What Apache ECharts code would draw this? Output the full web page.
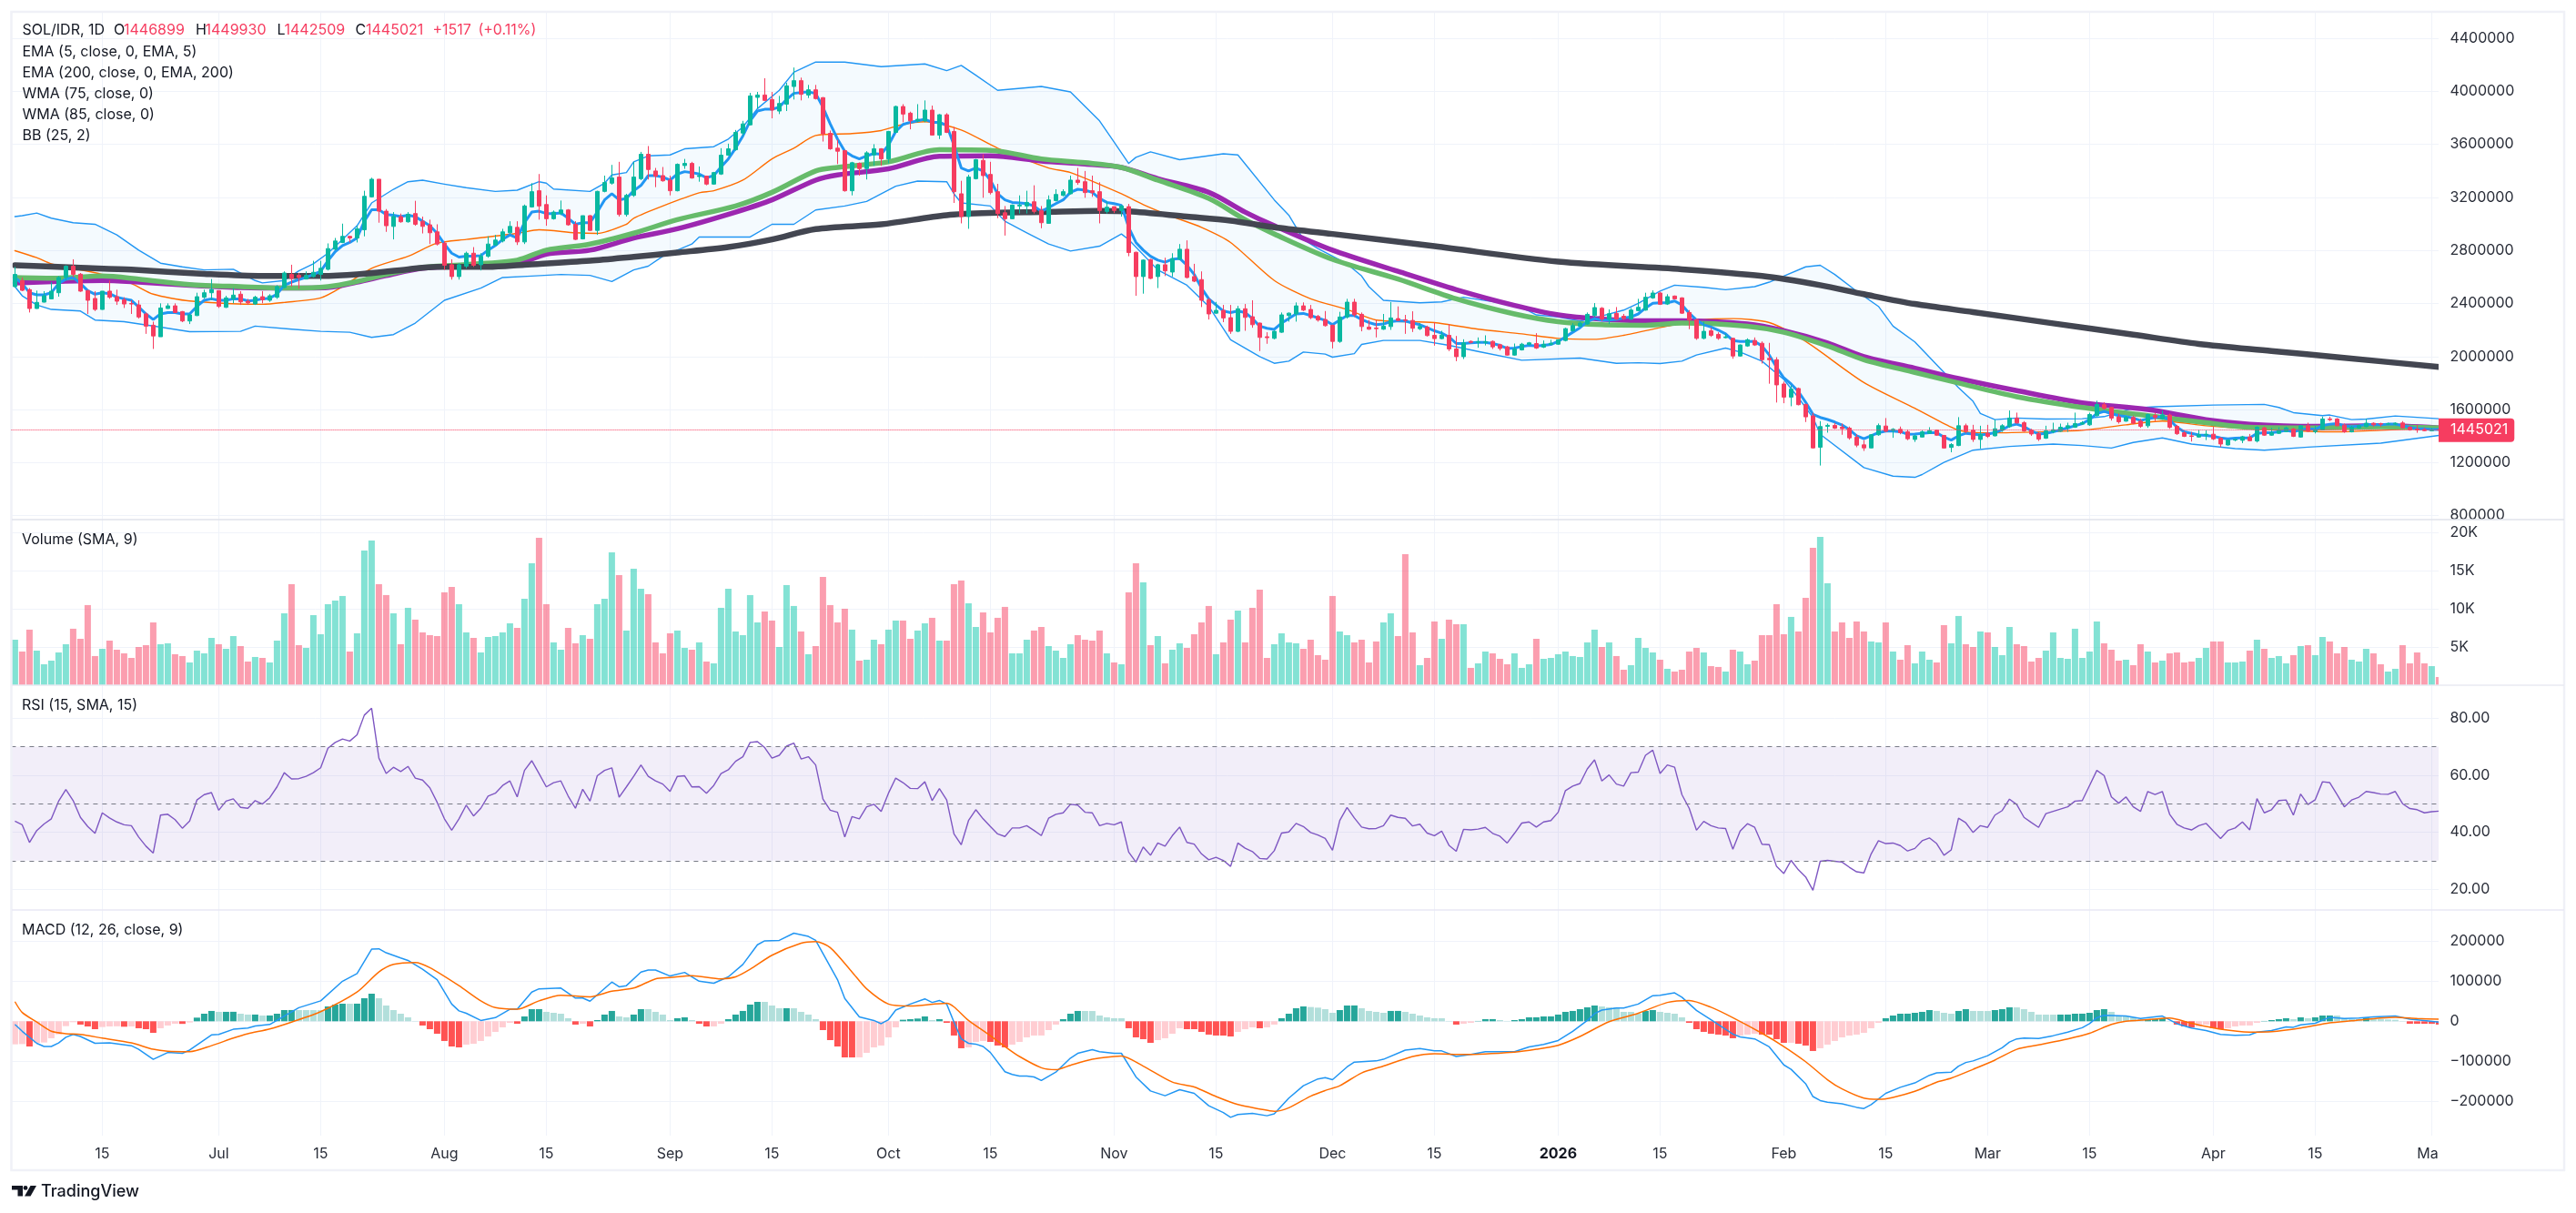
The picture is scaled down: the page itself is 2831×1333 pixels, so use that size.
<!DOCTYPE html>
<html>
<head>
<meta charset="utf-8">
<title>SOL/IDR, 1D</title>
<script src="https://cdn.jsdelivr.net/npm/echarts@6/dist/echarts.min.js"></script>
<style>html,body{margin:0;padding:0;background:#fff}#chart{width:2831px;height:1333px}</style>
</head>
<body>
<div id="chart"></div>
<script>
// Daily bars from 3 Jun 2025 to 2 May 2026; prices are in thousands of IDR.
const firstDay = Date.UTC(2025, 5, 3);
const barCount = 334;
const PRICE_UNIT = 1000;

const opens = [
2527,2573,2504,2362,2410,2435,2481,2596,2681,2621,
2497,2438,2355,2493,2451,2428,2400,2389,2321,2236,
2149,2362,2382,2339,2268,2309,2447,2481,2497,2371,
2435,2470,2417,2396,2451,2424,2447,2520,2619,2612,
2584,2603,2619,2658,2809,2860,2906,2894,2956,3204,
3337,3096,2981,3055,3016,3078,3020,2993,2940,2855,
2692,2603,2681,2779,2692,2756,2841,2871,2933,2974,
2864,3128,3250,3146,3039,3078,3105,2997,2887,3062,
2951,3245,3307,3353,3071,3215,3341,3525,3399,3364,
3330,3250,3440,3456,3357,3360,3300,3376,3518,3559,
3685,3747,3954,3972,3938,3851,3903,4036,4080,3972,
4011,3952,3683,3571,3552,3250,3456,3417,3520,3566,
3490,3690,3885,3835,3777,3777,3858,3670,3823,3697,
3227,3055,3341,3479,3373,3243,3084,3039,3135,3135,
3167,3101,3004,3176,3215,3227,3330,3318,3250,3243,
3094,3130,3101,3130,2786,2603,2731,2603,2692,2637,
2733,2809,2603,2580,2428,2327,2348,2293,2190,2360,
2300,2252,2149,2137,2183,2309,2321,2382,2355,2302,
2279,2236,2114,2298,2410,2318,2222,2215,2206,2226,
2286,2277,2272,2210,2222,2160,2135,2160,2057,1999,
2114,2107,2107,2114,2089,2073,2011,2050,2091,2098,
2071,2091,2093,2121,2194,2229,2245,2309,2364,2282,
2325,2304,2282,2346,2350,2442,2479,2396,2456,2442,
2332,2279,2137,2194,2167,2142,2137,2004,2080,2121,
2100,1986,1976,1793,1694,1759,1639,1552,1316,1474,
1481,1467,1460,1391,1334,1311,1410,1476,1442,1451,
1433,1375,1393,1421,1444,1405,1315,1329,1478,1444,
1375,1421,1402,1444,1471,1536,1501,1444,1418,1384,
1434,1437,1462,1467,1490,1485,1554,1637,1616,1545,
1513,1540,1513,1478,1556,1531,1559,1474,1425,1402,
1393,1409,1414,1384,1333,1370,1368,1393,1363,1462,
1407,1421,1434,1453,1393,1478,1434,1448,1529,1529,
1483,1432,1462,1471,1497,1494,1490,1490,1499,1467,
1453,1450,1441,1446.899];

const closes = [
2619,2499,2362,2408,2458,2493,2596,2681,2619,2493,
2424,2355,2493,2447,2417,2396,2396,2298,2229,2155,
2366,2382,2332,2268,2314,2451,2481,2506,2378,2442,
2463,2412,2405,2447,2428,2458,2527,2630,2589,2596,
2612,2635,2665,2814,2871,2906,2894,2963,3208,3337,
3096,2986,3055,3016,3073,2997,2981,2933,2848,2688,
2603,2692,2779,2688,2756,2848,2878,2940,2981,2864,
3135,3243,3135,3039,3089,3105,2993,2883,3062,2951,
3245,3312,3346,3071,3215,3353,3525,3410,3360,3325,
3250,3449,3456,3346,3364,3300,3387,3518,3566,3690,
3754,3965,3972,3931,3858,3908,4041,4080,3977,4011,
3945,3679,3566,3548,3250,3461,3417,3536,3566,3490,
3697,3885,3828,3777,3789,3858,3670,3823,3690,3243,
3055,3353,3484,3364,3236,3078,3039,3142,3142,3162,
3094,3009,3181,3222,3243,3330,3312,3236,3236,3101,
3126,3101,3135,2784,2603,2727,2589,2692,2646,2738,
2809,2596,2568,2424,2321,2348,2291,2190,2360,2295,
2240,2144,2142,2190,2314,2327,2382,2350,2293,2275,
2233,2114,2298,2410,2314,2226,2206,2210,2229,2291,
2272,2272,2213,2226,2158,2135,2162,2057,1999,2103,
2107,2112,2112,2073,2061,2011,2057,2093,2103,2064,
2093,2100,2126,2210,2233,2252,2318,2369,2282,2323,
2282,2286,2350,2371,2447,2479,2394,2451,2435,2327,
2275,2137,2190,2160,2137,2148,2004,2087,2126,2087,
1976,1976,1786,1694,1754,1637,1545,1311,1472,1481,
1460,1456,1387,1332,1311,1410,1479,1437,1451,1426,
1380,1402,1432,1441,1407,1310,1336,1478,1437,1375,
1414,1398,1455,1478,1536,1499,1439,1416,1377,1439,
1448,1467,1478,1494,1501,1563,1639,1609,1536,1508,
1540,1497,1474,1563,1540,1561,1467,1418,1398,1398,
1411,1414,1379,1340,1370,1375,1395,1365,1467,1407,
1425,1444,1462,1398,1478,1437,1448,1529,1524,1478,
1432,1467,1478,1497,1485,1490,1494,1497,1462,1448,
1446,1441,1443.504,1445.021];

const highs = [
2676,2596,2516,2497,2493,2561,2607,2688,2733,2630,
2504,2493,2493,2573,2504,2447,2424,2424,2332,2263,
2401,2401,2401,2343,2321,2481,2504,2584,2497,2458,
2516,2493,2435,2458,2493,2470,2538,2642,2692,2630,
2642,2722,2722,2853,2894,3002,2910,2986,3250,3348,
3337,3112,3089,3078,3089,3174,3055,3032,2997,2871,
2733,2704,2791,2825,2779,2906,2917,2963,3020,3020,
3146,3307,3376,3215,3101,3176,3112,3020,3062,3066,
3250,3364,3445,3468,3227,3468,3543,3587,3422,3429,
3364,3456,3490,3468,3433,3364,3392,3571,3605,3708,
3777,3988,3995,4098,3995,3965,4064,4179,4103,4048,
4048,3956,3704,3635,3559,3468,3463,3548,3601,3571,
3701,3892,3903,3846,3903,3931,3892,3828,3835,3731,
3325,3371,3490,3525,3468,3302,3135,3146,3215,3250,
3291,3135,3215,3261,3261,3364,3422,3399,3364,3314,
3169,3130,3142,3151,2791,2733,2736,2699,2745,2779,
2848,2876,2699,2642,2442,2412,2389,2389,2382,2396,
2424,2256,2183,2196,2332,2332,2408,2408,2389,2314,
2343,2240,2337,2435,2435,2332,2275,2275,2321,2410,
2378,2314,2341,2252,2233,2256,2194,2245,2155,2130,
2121,2144,2160,2121,2096,2080,2098,2103,2110,2176,
2121,2126,2130,2217,2252,2263,2332,2403,2373,2355,
2373,2321,2366,2435,2481,2499,2488,2470,2460,2447,
2350,2286,2263,2217,2183,2171,2142,2091,2137,2144,
2114,2103,1995,1811,1782,1766,1644,1575,1513,1495,
1499,1495,1472,1414,1369,1414,1495,1536,1460,1472,
1449,1409,1444,1467,1448,1409,1347,1543,1494,1485,
1478,1485,1524,1490,1593,1577,1513,1455,1432,1478,
1501,1494,1501,1577,1513,1577,1667,1655,1621,1570,
1554,1554,1531,1570,1577,1593,1570,1485,1437,1432,
1448,1444,1471,1393,1375,1379,1402,1416,1474,1471,
1462,1467,1471,1462,1483,1501,1478,1547,1547,1536,
1494,1478,1485,1531,1503,1501,1501,1503,1513,1476,
1485,1462,1462,1449.93];

const lows = [
2520,2493,2332,2360,2408,2433,2451,2573,2596,2488,
2321,2343,2353,2435,2389,2366,2321,2286,2171,2057,
2149,2360,2327,2259,2245,2305,2435,2424,2366,2366,
2401,2389,2389,2389,2401,2412,2435,2516,2527,2511,
2584,2596,2573,2649,2802,2855,2860,2860,2906,3199,
3009,2940,2883,3009,3009,2986,2928,2848,2837,2653,
2580,2580,2665,2676,2649,2745,2837,2860,2924,2841,
2848,3123,3032,2986,3032,3066,2986,2878,2883,2947,
2917,3238,3296,3055,3055,3204,3330,3335,3277,3318,
3215,3245,3415,3341,3318,3291,3295,3369,3513,3552,
3663,3743,3869,3926,3796,3828,3851,3938,3931,3949,
3938,3621,3559,3451,3243,3215,3364,3335,3438,3438,
3456,3685,3766,3713,3766,3766,3668,3640,3685,3158,
3004,2963,3335,3197,3222,3043,2912,3036,3078,3078,
3078,2967,3002,3169,3208,3222,3295,3197,3204,3004,
3078,3082,3055,2756,2458,2474,2584,2516,2607,2603,
2729,2589,2561,2373,2279,2321,2259,2171,2183,2194,
2217,2041,2096,2130,2178,2263,2263,2343,2282,2263,
2226,2061,2103,2286,2298,2190,2201,2144,2201,2201,
2268,2171,2185,2199,2151,2082,2130,2041,1965,1981,
2098,2066,2084,2057,2045,2006,2006,2045,2084,2057,
2064,2084,2089,2114,2190,2224,2240,2298,2268,2245,
2275,2275,2277,2341,2346,2435,2389,2389,2433,2321,
2206,2126,2130,2148,2126,2137,1983,1999,2073,2080,
1947,1795,1653,1648,1625,1632,1506,1307,1178,1426,
1453,1410,1373,1316,1288,1309,1403,1430,1387,1414,
1369,1356,1391,1416,1402,1306,1278,1324,1421,1356,
1306,1386,1398,1432,1462,1494,1432,1402,1363,1379,
1421,1432,1432,1462,1485,1478,1547,1600,1517,1494,
1508,1490,1462,1462,1513,1524,1455,1409,1393,1359,
1388,1370,1370,1317,1329,1361,1347,1361,1352,1402,
1402,1416,1430,1393,1388,1432,1420,1444,1513,1474,
1425,1428,1455,1467,1471,1471,1483,1483,1457,1441,
1425,1437,1440,1442.509];

const ema5 = [
2596,2550,2481,2465,2465,2481,2550,2584,2596,2550,
2497,2470,2481,2474,2447,2435,2424,2373,2321,2279,
2321,2332,2332,2321,2321,2378,2424,2435,2424,2424,
2435,2435,2419,2424,2435,2440,2470,2538,2561,2580,
2596,2619,2642,2722,2791,2837,2860,2894,3020,3107,
3107,3071,3066,3055,3066,3055,3020,2986,2928,2848,
2779,2750,2756,2756,2761,2802,2837,2883,2917,2894,
3009,3089,3096,3078,3078,3082,3043,2997,3009,3009,
3089,3181,3227,3181,3192,3250,3290,3364,3364,3353,
3330,3376,3394,3387,3376,3348,3364,3429,3490,3571,
3663,3777,3851,3864,3864,3880,3938,3984,3991,3995,
3984,3880,3754,3640,3548,3513,3490,3513,3530,3525,
3594,3697,3750,3766,3777,3789,3766,3766,3743,3594,
3422,3399,3422,3399,3330,3227,3181,3162,3158,3153,
3135,3094,3123,3153,3181,3238,3261,3254,3238,3192,
3162,3153,3140,2974,2860,2802,2756,2727,2711,2733,
2740,2688,2619,2516,2435,2389,2343,2332,2343,2332,
2286,2229,2213,2205,2252,2286,2321,2325,2309,2291,
2272,2240,2275,2309,2309,2279,2256,2240,2245,2263,
2270,2268,2252,2240,2217,2194,2176,2148,2098,2098,
2103,2107,2107,2098,2084,2061,2064,2075,2084,2080,
2084,2091,2114,2148,2183,2217,2263,2286,2275,2275,
2279,2291,2298,2321,2366,2401,2405,2405,2419,2389,
2327,2275,2240,2222,2199,2171,2121,2114,2114,2114,
2080,2011,1919,1839,1793,1736,1655,1564,1541,1525,
1506,1483,1449,1403,1380,1403,1426,1437,1437,1433,
1414,1416,1421,1425,1425,1393,1370,1402,1421,1416,
1409,1416,1425,1448,1478,1490,1471,1439,1416,1421,
1432,1448,1462,1478,1494,1524,1570,1586,1570,1554,
1547,1536,1517,1531,1540,1547,1524,1467,1432,1421,
1409,1405,1398,1386,1379,1384,1386,1386,1421,1425,
1425,1432,1444,1432,1448,1455,1451,1478,1490,1494,
1478,1471,1476,1490,1485,1485,1490,1490,1478,1467,
1455,1455,1450,1449];

// Slower overlays, read as [bar, price] at the turning points of each curve.
const ema200 = [[0,2688],[9,2669],[16,2655],[26,2623],[34,2607],[42,2607],[47,2619],[54,2658],[58,2676],[65,2676],[70,2692],[79,2722],[85,2752],[91,2784],[98,2825],[104,2883],[110,2961],[119,2997],[128,3066],[135,3084],[141,3089],[149,3098],[153,3094],[161,3055],[167,3025],[173,2974],[181,2924],[195,2832],[212,2715],[229,2658],[240,2607],[248,2538],[254,2470],[261,2396],[269,2335],[280,2250],[291,2165],[300,2095],[310,2042],[319,1995],[333,1922]];
const wma75 = [[0,2596],[6,2591],[12,2607],[17,2584],[24,2543],[31,2527],[38,2516],[43,2527],[47,2566],[51,2619],[56,2672],[62,2694],[69,2727],[73,2802],[79,2848],[85,2930],[91,3032],[99,3135],[104,3238],[110,3399],[113,3426],[120,3468],[127,3559],[134,3555],[141,3490],[147,3461],[152,3426],[157,3330],[164,3192],[169,3032],[173,2924],[181,2733],[190,2584],[198,2435],[206,2321],[212,2263],[218,2240],[224,2236],[229,2252],[238,2229],[243,2183],[249,2080],[254,1976],[261,1880],[267,1800],[275,1697],[284,1616],[293,1554],[301,1501],[307,1467],[316,1462],[325,1471],[333,1462]];
const wma85 = [[0,2555],[6,2566],[12,2573],[17,2561],[24,2538],[31,2520],[38,2516],[43,2520],[47,2561],[51,2610],[56,2665],[62,2681],[69,2699],[73,2772],[79,2802],[85,2894],[91,2963],[99,3089],[104,3181],[110,3330],[113,3369],[120,3415],[127,3509],[134,3513],[141,3474],[147,3451],[152,3426],[157,3341],[164,3238],[169,3089],[173,2986],[181,2802],[190,2642],[198,2504],[206,2385],[212,2314],[218,2282],[224,2270],[229,2270],[238,2245],[243,2194],[249,2103],[254,2000],[261,1912],[267,1834],[275,1743],[284,1651],[293,1600],[301,1524],[307,1490],[316,1474],[325,1478],[333,1462]];
const bbUpper = [[0,3055],[1,3062],[3,3082],[5,3043],[8,3009],[11,2997],[14,2917],[17,2802],[20,2704],[23,2676],[26,2653],[30,2658],[33,2573],[34,2555],[37,2573],[39,2646],[41,2699],[43,2779],[47,2986],[49,3158],[52,3261],[54,3318],[56,3330],[59,3300],[62,3273],[66,3245],[69,3254],[72,3318],[73,3307],[74,3263],[79,3245],[81,3307],[82,3369],[84,3387],[85,3468],[87,3513],[90,3520],[92,3566],[96,3582],[98,3640],[100,3731],[102,3869],[105,4007],[107,4144],[110,4220],[114,4220],[119,4186],[125,4206],[128,4156],[130,4195],[132,4121],[135,4007],[141,4036],[145,3995],[149,3777],[151,3617],[153,3456],[154,3502],[156,3543],[160,3484],[166,3529],[168,3520],[173,3181],[175,3066],[177,2883],[179,2814],[183,2699],[185,2607],[186,2527],[188,2424],[193,2405],[196,2412],[199,2447],[206,2389],[208,2343],[209,2314],[212,2298],[215,2268],[217,2291],[221,2350],[223,2401],[226,2493],[228,2538],[232,2522],[235,2504],[239,2527],[241,2561],[243,2607],[246,2676],[248,2688],[250,2619],[253,2493],[256,2378],[258,2229],[261,2110],[265,1880],[267,1766],[269,1662],[270,1570],[272,1524],[275,1536],[279,1529],[284,1531],[287,1547],[291,1611],[294,1621],[302,1634],[309,1639],[311,1616],[313,1577],[317,1554],[318,1559],[321,1524],[323,1529],[327,1552],[333,1531]];
const bbLower = [[0,2527],[1,2458],[3,2389],[5,2355],[9,2343],[11,2275],[15,2263],[20,2222],[24,2187],[31,2190],[33,2229],[38,2206],[42,2190],[46,2183],[49,2144],[52,2165],[55,2252],[59,2424],[64,2516],[67,2596],[71,2607],[75,2619],[79,2612],[82,2566],[85,2653],[87,2681],[89,2756],[93,2848],[94,2901],[101,2901],[104,2997],[107,2997],[110,3105],[114,3135],[117,3169],[121,3284],[124,3323],[128,3318],[129,3227],[130,3158],[134,3135],[136,3020],[139,2933],[142,2848],[145,2795],[149,2832],[152,2924],[153,2882],[157,2653],[161,2538],[164,2378],[167,2126],[171,2000],[173,1949],[175,1965],[177,2034],[180,2018],[181,1995],[184,2022],[185,2091],[188,2121],[193,2121],[197,2084],[201,2038],[207,1972],[215,1988],[220,1949],[223,1953],[226,1947],[229,1965],[231,2011],[235,2064],[237,2034],[240,1965],[243,1827],[245,1690],[247,1540],[248,1414],[254,1162],[258,1098],[261,1089],[262,1110],[265,1202],[269,1294],[274,1322],[280,1340],[284,1329],[288,1310],[291,1352],[295,1386],[299,1340],[305,1306],[309,1294],[315,1317],[325,1347],[333,1405]];
const bbBasis = [[0,2798],[3,2745],[5,2699],[12,2619],[16,2550],[19,2470],[24,2419],[34,2394],[37,2408],[42,2442],[45,2527],[49,2665],[54,2756],[58,2855],[62,2883],[69,2928],[72,2956],[77,2933],[80,2928],[84,2997],[85,3043],[89,3135],[94,3234],[96,3250],[100,3330],[104,3490],[107,3571],[110,3667],[115,3681],[119,3704],[122,3750],[125,3770],[130,3708],[135,3571],[142,3422],[145,3387],[152,3227],[155,3146],[159,3055],[163,2974],[167,2860],[173,2573],[178,2435],[183,2355],[187,2275],[195,2256],[201,2206],[207,2171],[212,2137],[217,2130],[221,2160],[227,2229],[232,2279],[236,2286],[241,2256],[246,2114],[254,1804],[261,1610],[266,1467],[268,1432],[272,1425],[278,1432],[284,1444],[290,1485],[295,1513],[301,1478],[307,1455],[319,1432],[325,1444],[333,1462]];

// Volume in thousands of SOL.
const volumes = [
5.96,4.41,7.28,4.53,2.74,3.22,4.29,5.37,7.40,6.08,
10.50,3.82,4.77,5.84,4.65,4.17,3.58,5.01,5.25,8.23,
5.37,5.49,4.06,3.82,2.98,4.53,4.17,6.20,5.37,4.77,
6.44,5.13,3.10,3.70,3.58,2.98,5.84,9.42,13.24,5.25,
4.89,9.18,6.68,10.62,11.09,11.69,4.41,6.80,17.65,18.97,
13.24,11.81,9.42,5.37,10.14,8.59,6.92,6.56,6.44,12.17,
12.88,10.62,6.92,6.20,4.29,6.32,6.44,6.92,8.11,7.51,
11.33,15.98,19.32,10.62,5.61,4.65,7.51,5.49,6.56,6.08,
10.62,11.33,17.41,14.43,7.16,15.27,12.64,11.93,5.61,4.17,
6.80,7.16,4.89,4.65,5.61,3.10,2.86,10.14,12.64,7.04,
6.56,11.81,8.23,9.66,8.47,5.01,13.12,10.38,7.04,4.06,
5.13,14.19,10.50,8.23,10.02,7.28,3.22,3.34,5.96,5.37,
7.28,8.47,8.47,6.08,7.16,8.11,8.83,5.84,5.84,13.24,
13.72,10.73,7.63,9.54,6.92,8.83,10.26,4.17,4.17,5.96,
7.16,7.63,5.13,4.53,3.58,5.37,6.56,5.96,5.84,7.16,
4.17,2.98,2.74,12.17,15.98,13.48,5.25,6.44,2.86,4.65,
5.49,4.89,6.68,8.23,10.38,4.06,5.61,8.59,9.78,5.61,
10.14,12.52,3.58,5.37,6.80,5.61,5.49,4.77,5.96,3.94,
3.34,11.69,7.04,6.56,5.61,5.96,2.98,5.73,8.23,9.42,
6.44,17.18,6.92,2.62,3.58,8.35,6.08,8.59,7.99,7.99,
2.27,2.86,4.41,4.17,3.46,2.74,4.17,2.27,2.74,6.08,
3.46,3.58,4.06,4.41,3.82,3.70,5.61,7.28,5.01,5.61,
3.82,2.03,2.62,6.20,4.89,4.29,3.34,2.15,1.79,2.03,
4.41,4.89,4.29,2.50,2.39,1.79,4.65,4.41,2.74,3.22,
6.56,6.56,10.62,6.68,8.95,7.04,11.45,18.01,19.44,13.36,
7.04,8.23,6.20,8.35,7.04,5.73,5.61,8.23,4.41,3.34,
5.25,2.86,4.41,3.34,2.98,7.87,5.49,9.07,5.37,5.01,
7.04,6.92,5.01,3.94,7.63,5.37,5.13,3.10,3.58,4.53,
6.92,3.58,3.46,7.40,3.58,4.41,8.35,5.49,4.65,3.22,
3.34,2.62,5.37,4.41,2.98,3.22,4.17,4.29,2.98,3.10,
3.58,4.89,5.73,5.73,2.98,2.98,3.10,4.53,5.96,4.77,
3.58,3.82,2.86,3.94,5.13,5.25,3.94,6.32,5.73,4.17,
5.01,3.34,3.10,4.77,4.17,2.74,1.79,2.15,5.25,2.86,
4.29,2.86,2.50,1.07];

const rsiValues = [
43.9,42.6,36.4,40.6,42.9,44.7,50.9,55.0,51.1,45.2,
42.0,39.6,46.8,45.0,43.6,42.6,42.3,38.3,35.1,32.7,
46.0,46.3,44.4,41.4,43.9,51.3,53.2,53.9,47.7,50.9,
51.7,48.7,48.4,51.1,49.9,52.1,55.9,60.9,58.7,58.8,
59.6,60.9,62.6,69.5,71.5,72.7,72.0,74.2,81.1,83.5,
66.0,60.6,62.8,61.3,63.1,59.0,58.3,55.6,50.5,44.7,
40.7,44.7,49.5,45.7,48.4,52.7,53.7,56.4,58.0,52.4,
61.7,65.1,60.6,55.9,57.4,58.0,52.7,48.4,55.1,50.9,
59.8,61.7,62.6,52.3,55.9,59.6,63.6,59.6,58.0,56.9,
54.3,59.6,59.8,55.9,56.0,53.7,56.4,60.6,61.9,64.9,
66.5,71.5,71.8,69.7,66.0,67.0,70.2,71.3,65.7,66.5,
63.6,51.6,47.7,47.0,38.3,45.5,44.7,48.9,49.8,47.3,
53.7,59.0,57.4,55.4,55.3,57.7,51.1,55.3,51.3,39.4,
35.6,44.1,47.9,44.7,42.0,39.4,38.5,41.5,41.5,42.3,
40.6,38.8,44.9,46.3,46.8,49.8,49.5,47.0,46.8,42.3,
43.1,42.6,43.6,33.0,29.5,34.8,31.9,36.2,35.1,38.8,
41.8,36.4,35.8,32.4,30.3,31.2,30.1,28.0,36.2,34.4,
33.2,30.8,30.6,33.5,39.7,40.1,43.1,42.0,39.9,39.0,
37.8,33.7,44.1,48.7,45.0,41.8,41.2,41.3,42.3,46.0,
45.2,44.9,42.2,42.8,39.7,38.8,40.4,35.4,33.3,41.0,
40.8,41.1,41.7,39.6,38.6,36.2,39.6,43.2,43.6,41.8,
43.6,44.1,47.0,54.6,56.2,57.1,62.2,65.4,58.0,60.1,
56.9,56.2,60.9,61.1,67.0,68.8,60.6,63.6,62.8,53.2,
48.4,40.7,43.8,42.3,41.5,41.3,34.0,40.4,43.0,41.7,
35.8,35.6,28.0,25.5,30.1,26.8,24.3,19.6,29.8,30.1,
29.8,29.5,27.7,26.1,25.7,32.4,37.0,36.0,36.2,35.3,
33.4,34.3,37.0,38.0,36.0,31.9,33.8,44.9,43.3,39.9,
42.3,41.7,46.0,47.6,51.6,49.7,45.2,43.4,41.7,46.5,
47.3,48.1,48.9,50.9,51.1,56.4,61.7,59.9,52.4,50.2,
52.4,48.9,47.3,54.3,53.2,54.3,46.3,42.8,41.5,40.8,
42.3,43.1,40.4,37.8,40.6,41.5,43.6,40.8,51.8,46.8,
47.9,51.1,51.3,46.0,53.4,49.7,51.4,57.7,57.4,53.2,
48.9,51.3,52.3,54.3,53.9,53.4,53.3,54.3,50.0,48.3,
47.9,46.8,47.2,47.4];

// MACD values are in thousands of IDR.
const macdHist = [
-57.6,-57.0,-62.9,-53.8,-53.0,-42.4,-32.6,-12.1,-2.3,-8.3,
-12.9,-19.7,-14.4,-12.9,-12.5,-13.6,-12.9,-17.4,-19.7,-28.8,
-17.4,-10.6,-6.1,-6.5,-3.0,9.1,18.9,25.8,23.5,23.6,
23.7,18.9,16.7,16.8,14.4,14.5,18.9,28.0,28.1,28.0,
27.9,27.8,27.7,37.1,41.7,43.9,43.8,44.0,57.6,68.9,
57.6,39.4,28.0,18.9,9.8,0.8,-10.6,-19.7,-31.1,-49.2,
-62.9,-65.2,-58.3,-56.1,-49.2,-37.9,-26.5,-15.2,-3.8,-6.1,
12.1,30.3,30.4,23.5,21.2,18.9,7.6,-8.3,-6.1,-12.9,
3.0,16.7,25.8,12.1,9.8,16.7,30.3,30.2,23.5,16.7,
3.0,7.6,9.8,3.0,-6.1,-12.9,-12.8,-6.1,5.3,16.7,
25.8,41.7,48.5,48.4,39.4,32.6,32.7,32.6,23.5,16.7,
5.3,-22.0,-47.0,-62.9,-90.2,-90.3,-90.1,-78.8,-65.2,-60.6,
-40.2,-15.2,3.8,5.3,6.8,12.1,3.0,5.3,-3.8,-35.6,
-67.4,-65.2,-51.5,-49.2,-51.5,-60.6,-65.2,-58.3,-51.5,-40.2,
-35.6,-35.5,-22.0,-8.3,5.3,18.9,25.8,25.7,25.6,14.4,
9.8,7.6,7.5,-17.4,-40.2,-44.7,-53.8,-47.0,-42.4,-31.1,
-17.4,-19.7,-19.8,-26.5,-33.3,-35.6,-35.7,-37.9,-26.5,-19.7,
-15.2,-17.4,-15.2,-8.3,7.6,18.9,32.6,37.1,35.6,34.1,
30.3,21.2,28.0,39.4,39.5,32.6,25.8,23.5,21.2,25.8,
25.9,23.5,18.9,14.4,9.8,7.6,7.5,0.8,-8.3,-6.1,
-3.8,0.8,5.3,5.4,3.0,0.8,3.0,5.3,9.8,9.9,
12.1,12.2,16.7,23.5,25.8,30.3,34.8,39.4,37.1,34.8,
34.7,23.5,23.4,18.9,25.8,28.0,23.5,21.2,18.9,9.8,
-3.8,-19.7,-26.5,-31.1,-33.3,-35.6,-42.4,-35.6,-33.3,-31.1,
-33.3,-33.4,-44.7,-53.8,-53.7,-56.1,-60.6,-74.2,-67.4,-58.3,
-49.2,-40.2,-35.6,-33.3,-28.8,-17.4,-3.8,7.6,14.4,18.9,
19.0,21.2,23.5,28.0,25.8,21.2,18.9,25.8,30.3,25.8,
25.7,25.6,28.0,30.3,34.8,34.7,30.3,23.5,16.7,16.6,
16.5,16.7,16.8,18.9,19.0,21.2,28.0,30.3,23.5,14.4,
12.1,9.8,5.3,5.4,5.5,7.6,0.8,-8.3,-12.9,-15.2,
-12.9,-8.3,-17.4,-19.7,-17.4,-12.9,-10.6,-10.5,-3.8,0.8,
3.0,5.3,7.6,5.3,9.8,7.6,9.8,14.4,14.5,14.4,
7.6,5.3,5.2,9.1,5.3,5.2,4.5,3.8,0.8,-6.1,
-6.2,-6.3,-6.4,-8.3];

const macdLine = [[0,-8],[1,-25],[3,-55],[4,-63],[5,-63],[6,-54],[7,-40],[8,-33],[9,-38],[11,-55],[13,-54],[16,-61],[17,-70],[19,-95],[21,-78],[23,-80],[24,-72],[27,-34],[28,-33],[30,-20],[32,-17],[33,-12],[35,-8],[37,13],[39,34],[42,51],[45,100],[47,119],[49,180],[50,181],[51,171],[53,158],[54,152],[56,130],[58,104],[60,43],[61,26],[62,20],[64,2],[66,9],[68,30],[69,30],[71,73],[72,81],[75,83],[77,58],[78,58],[79,50],[82,98],[83,86],[84,89],[86,123],[87,128],[88,128],[90,113],[92,122],[94,100],[96,95],[98,111],[100,142],[102,191],[103,201],[105,202],[107,220],[109,212],[110,202],[113,104],[114,57],[116,11],[118,2],[119,-6],[120,4],[121,28],[123,43],[125,56],[126,47],[127,52],[128,43],[129,-2],[130,-44],[131,-55],[132,-57],[133,-63],[134,-78],[136,-126],[137,-133],[138,-137],[139,-137],[140,-139],[141,-148],[143,-127],[145,-92],[146,-80],[148,-71],[149,-76],[151,-80],[152,-80],[154,-139],[156,-174],[158,-186],[160,-171],[162,-180],[164,-211],[166,-228],[167,-240],[168,-233],[170,-230],[172,-236],[173,-231],[175,-192],[177,-161],[179,-144],[180,-141],[181,-146],[183,-114],[184,-102],[187,-99],[188,-95],[191,-72],[193,-68],[195,-74],[196,-74],[198,-88],[200,-83],[202,-76],[204,-76],[206,-76],[208,-64],[210,-58],[212,-48],[214,-25],[216,2],[217,19],[218,28],[220,33],[221,33],[223,43],[225,64],[226,65],[228,71],[229,60],[231,27],[233,4],[235,-20],[236,-32],[237,-39],[239,-44],[241,-64],[243,-109],[244,-120],[246,-156],[247,-188],[248,-198],[249,-202],[251,-206],[253,-215],[254,-218],[255,-208],[257,-180],[259,-165],[261,-154],[263,-135],[264,-129],[266,-127],[267,-112],[268,-103],[269,-99],[271,-86],[273,-66],[274,-52],[275,-44],[276,-42],[278,-43],[280,-36],[282,-27],[284,-16],[285,-6],[286,9],[287,15],[290,13],[292,7],[295,13],[297,-6],[299,-17],[301,-23],[303,-33],[305,-35],[307,-34],[308,-27],[310,-23],[312,-14],[313,-15],[314,-9],[316,-5],[318,10],[320,7],[322,8],[324,11],[327,13],[329,5],[331,2],[333,-2]];
const macdSignal = [[0,49],[1,22],[3,-2],[5,-25],[7,-31],[9,-33],[12,-42],[16,-54],[19,-70],[21,-75],[24,-76],[27,-61],[30,-42],[32,-31],[35,-19],[38,-2],[42,24],[47,73],[50,123],[52,142],[55,147],[57,134],[61,89],[64,51],[66,34],[69,30],[72,51],[75,65],[79,61],[82,75],[85,83],[88,106],[90,109],[93,114],[97,106],[99,111],[101,130],[104,165],[108,195],[110,199],[112,184],[115,123],[117,81],[120,43],[123,38],[128,45],[129,36],[131,2],[134,-36],[136,-63],[138,-88],[141,-116],[143,-121],[145,-110],[148,-95],[151,-88],[152,-87],[155,-112],[159,-152],[162,-164],[165,-188],[168,-208],[171,-219],[173,-225],[175,-216],[178,-187],[180,-173],[182,-161],[185,-129],[188,-112],[192,-88],[195,-81],[199,-83],[206,-77],[209,-70],[212,-60],[215,-38],[219,-1],[223,20],[227,47],[230,52],[233,35],[236,9],[240,-30],[243,-63],[246,-101],[249,-146],[251,-169],[254,-192],[256,-195],[258,-190],[261,-175],[264,-152],[266,-142],[269,-120],[272,-97],[275,-70],[278,-59],[282,-44],[285,-30],[288,-8],[290,0],[293,4],[296,8],[299,-5],[303,-20],[307,-27],[310,-26],[314,-17],[318,-4],[321,1],[325,8],[327,10],[330,7],[333,5]];

// Date axis ticks: bar index and caption.
const dateTickBars = [12,28,42,59,73,90,104,120,134,151,165,181,195,212,226,243,257,271,285,302,316,332];
const dateTickText = ['15','Jul','15','Aug','15','Sep','15','Oct','15','Nov','15','Dec','15','2026','15','Feb','15','Mar','15','Apr','15','May'];

const priceTicks = [800000,1200000,1600000,2000000,2400000,2800000,3200000,3600000,4000000,4400000];
const volumeTicks = [5000,10000,15000,20000];
const rsiTicks = [20,40,60,80];
const rsiBands = [30,50,70];
const macdTicks = [-200000,-100000,0,100000,200000];

const studyTitles = ['EMA (5, close, 0, EMA, 5)','EMA (200, close, 0, EMA, 200)','WMA (75, close, 0)','WMA (85, close, 0)','BB (25, 2)'];

const FONT = 'Inter';
const TEXT = '#131722';
const AXIS_TEXT = '#2a2e39';
const UP = '#08b8a0';
const DOWN = '#f63d60';
const GRIDLINE = '#f0f3fa';
const BLUE = '#2196f3';
const ORANGE = '#ff6d00';

const categories = Array.from({length: barCount}, (_, i) => new Date(firstDay + i * 86400000).toISOString().slice(0, 10));
const tickCaption = new Map(dateTickBars.map((bar, i) => [bar, dateTickText[i]]));
const scaled = (pairs, unit) => pairs.map(([bar, v]) => [bar, v * unit]);

// Pane rectangles in page pixels.
const plotLeft = 12.4, plotWidth = 2672, plotEdge = 2680, frameRight = 2818;
const panes = [
  {top: 13, bottom: 571, min: 770400, max: 4599000},
  {top: 571, bottom: 753, min: 0, max: 21700},
  {top: 753, bottom: 1000, min: 12.7, max: 91.6},
  {top: 1000, bottom: 1248, min: -285700, max: 278000}
];
const grids = panes.map(p => ({left: plotLeft, width: plotWidth, top: p.top, height: p.bottom - p.top, containLabel: false}));

const xAxes = panes.map((p, i) => ({
  type: 'category', gridIndex: i, data: categories, boundaryGap: true,
  axisLine: {show: false}, axisTick: {show: false},
  axisLabel: i === 3 ? {
    show: true, margin: 12, fontFamily: FONT, fontSize: 16, color: AXIS_TEXT,
    interval: idx => tickCaption.has(idx), hideOverlap: false,
    formatter: (v, idx) => tickCaption.get(idx) === '2026' ? '{y|2026}' : (tickCaption.get(idx) || ''),
    rich: {y: {fontFamily: FONT, fontSize: 16, fontWeight: 700, color: TEXT}}
  } : {show: false},
  splitLine: {show: true, alignWithLabel: true, interval: idx => tickCaption.has(idx), lineStyle: {color: GRIDLINE, width: 1}}
}));

const tickFormats = [
  v => String(v),
  v => (v / 1000) + 'K',
  v => v.toFixed(2),
  v => String(v).replace('-', '\u2212')
];
const tickLists = [priceTicks, volumeTicks, rsiTicks, macdTicks];
const yAxes = panes.map((p, i) => ({
  type: 'value', gridIndex: i, position: 'right', min: p.min, max: p.max, scale: true,
  axisLine: {show: false},
  axisTick: {show: false, customValues: tickLists[i]},
  axisLabel: {show: true, margin: 8, fontFamily: FONT, fontSize: 16, color: AXIS_TEXT, customValues: tickLists[i], formatter: tickFormats[i], showMinLabel: true, showMaxLabel: true},
  splitLine: {show: true, lineStyle: {color: GRIDLINE, width: 1}}
}));

const overlay = (name, data, color, width, z, smooth) => ({
  name, type: 'line', xAxisIndex: 0, yAxisIndex: 0, data: scaled(data, PRICE_UNIT),
  showSymbol: false, silent: true, smooth: smooth || 0, z,
  lineStyle: {color, width, cap: 'round', join: 'round'}
});

const lastClose = closes[barCount - 1] * PRICE_UNIT;
const lastLabel = String(Math.round(lastClose));

const series = [
  // Shaded band between the Bollinger envelopes.
  {
    type: 'custom', xAxisIndex: 0, yAxisIndex: 0, silent: true, z: 1, data: [[0, bbUpper[0][1] * PRICE_UNIT]],
    renderItem: (params, api) => {
      const upper = bbUpper.map(([b, v]) => api.coord([b, v * PRICE_UNIT]));
      const lower = bbLower.map(([b, v]) => api.coord([b, v * PRICE_UNIT])).reverse();
      return {type: 'polygon', shape: {points: upper.concat(lower)}, style: {fill: 'rgba(33,150,243,0.05)'}};
    }
  },
  overlay('BB upper', bbUpper, BLUE, 1.4, 3),
  overlay('BB lower', bbLower, BLUE, 1.4, 3),
  overlay('BB basis', bbBasis, ORANGE, 1.4, 3, 0.25),
  overlay('WMA 85', wma85, '#9c27b0', 5.5, 4, 0.3),
  overlay('WMA 75', wma75, '#66bb6a', 5.5, 5, 0.3),
  overlay('EMA 200', ema200, '#434651', 6.5, 6, 0.3),
  {
    name: 'EMA 5', type: 'line', xAxisIndex: 0, yAxisIndex: 0, silent: true, z: 7, showSymbol: false,
    data: ema5.map(v => v * PRICE_UNIT), lineStyle: {color: BLUE, width: 3}
  },
  {
    name: 'SOL/IDR', type: 'candlestick', xAxisIndex: 0, yAxisIndex: 0, silent: true, z: 8, barWidth: 5,
    data: opens.map((o, i) => [o, closes[i], lows[i], highs[i]].map(v => v * PRICE_UNIT)),
    itemStyle: {color: UP, color0: DOWN, borderColor: UP, borderColor0: DOWN, borderWidth: 1},
    markLine: {
      silent: true, symbol: 'none', animation: false, z: 100, precision: 0,
      data: [{yAxis: lastClose}],
      lineStyle: {color: DOWN, type: 'dotted', width: 1},
      label: {
        show: true, position: 'end', distance: -4.4, formatter: () => lastLabel,
        fontFamily: FONT, fontSize: 16, color: '#fff', backgroundColor: DOWN,
        padding: [5, 7, 5, 13], borderRadius: [0, 4, 4, 0]
      }
    }
  },
  {
    name: 'Volume', type: 'bar', xAxisIndex: 1, yAxisIndex: 1, silent: true, barWidth: 7,
    data: volumes.map((v, i) => ({
      value: v * 1000,
      itemStyle: {color: closes[i] >= opens[i] ? 'rgba(8,198,170,0.5)' : 'rgba(248,62,96,0.5)'}
    }))
  },
  {
    name: 'RSI', type: 'line', xAxisIndex: 2, yAxisIndex: 2, silent: true, showSymbol: false, z: 4,
    data: rsiValues, lineStyle: {color: '#7e57c2', width: 1.4},
    markArea: {silent: true, animation: false, z: 1, itemStyle: {color: 'rgba(126,87,194,0.1)'}, data: [[{yAxis: rsiBands[0]}, {yAxis: rsiBands[2]}]]},
    markLine: {
      silent: true, symbol: 'none', animation: false, label: {show: false},
      lineStyle: {color: '#787b86', type: [5, 5], width: 1.2},
      data: rsiBands.map(b => ({yAxis: b}))
    }
  },
  {
    name: 'Histogram', type: 'bar', xAxisIndex: 3, yAxisIndex: 3, silent: true, barWidth: 7, z: 2,
    data: macdHist.map((h, i) => {
      const prev = i ? macdHist[i - 1] : h - 1;
      const color = h >= 0 ? (h >= prev ? '#26a69a' : '#b2dfdb') : (h <= prev ? '#ff5252' : '#ffcdd2');
      return {value: h * PRICE_UNIT, itemStyle: {color}};
    })
  },
  {name: 'MACD', type: 'line', xAxisIndex: 3, yAxisIndex: 3, silent: true, showSymbol: false, z: 4, data: scaled(macdLine, PRICE_UNIT), lineStyle: {color: BLUE, width: 1.5}},
  {name: 'Signal', type: 'line', xAxisIndex: 3, yAxisIndex: 3, silent: true, showSymbol: false, z: 5, data: scaled(macdSignal, PRICE_UNIT), smooth: 0.25, lineStyle: {color: ORANGE, width: 1.5}}
];

// Captions and the chart frame.
const label = (text, x, y, fill, weight) => ({
  type: 'text', x, y, z: 60, silent: true,
  style: {text, fill: fill || TEXT, font: (weight || 400) + ' 16px ' + FONT, textAlign: 'left', textVerticalAlign: 'middle'}
});
const cover = (x, y, width, height) => ({type: 'rect', z: 40, silent: true, shape: {x, y, width, height}, style: {fill: '#fff'}});
const rule = (y, color) => ({type: 'line', z: 50, silent: true, shape: {x1: 13, y1: y, x2: frameRight, y2: y}, style: {stroke: color, lineWidth: 1.5}});

const graphics = [
  cover(plotEdge, 13, plotLeft + plotWidth - plotEdge + 1, 1235),
  cover(plotEdge, 1250, 12, 34),
  cover(2684, 572, 130, 6),
  {type: 'rect', z: 50, silent: true, shape: {x: 12.5, y: 13, width: frameRight - 12.5, height: 1273}, style: {fill: 'none', stroke: '#f0f1f7', lineWidth: 2.5}},
  rule(571, '#e0e3eb'), rule(753, '#e9eaf2'), rule(1000, '#e9e7f5'),
  label('SOL/IDR, 1D', 24.5, 33), label('O', 125, 33), label('1446899', 136, 33, DOWN),
  label('H', 215, 33), label('1449930', 225.5, 33, DOWN),
  label('L', 304.5, 33), label('1442509', 312.5, 33, DOWN),
  label('C', 390.6, 33), label('1445021', 402, 33, DOWN),
  label('+1517', 475.4, 33, DOWN), label('(+0.11%)', 525.4, 33, DOWN),
  ...studyTitles.map((t, i) => label(t, 24.5, 56.7 + i * 23)),
  label('Volume (SMA, 9)', 24, 592.7),
  label('RSI (15, SMA, 15)', 24, 774.7),
  label('MACD (12, 26, close, 9)', 24, 1021.7),
  // TradingView mark and wordmark.
  {type: 'polygon', z: 60, silent: true, shape: {points: [[13, 1303], [25, 1303], [25, 1314.5], [19.5, 1314.5], [19.5, 1307.5], [13, 1307.5]]}, style: {fill: TEXT}},
  {type: 'circle', z: 60, silent: true, shape: {cx: 28, cy: 1305.4, r: 2.4}, style: {fill: TEXT}},
  {type: 'polygon', z: 60, silent: true, shape: {points: [[33.5, 1303], [40, 1303], [33.5, 1314.5], [27, 1314.5]]}, style: {fill: TEXT}},
  {type: 'text', x: 45, y: 1309.5, z: 60, silent: true, style: {text: 'TradingView', fill: TEXT, font: '500 18px ' + FONT, textAlign: 'left', textVerticalAlign: 'middle'}}
];

const chart = echarts.init(document.getElementById('chart'), null, {renderer: 'canvas'});
chart.setOption({
  animation: false,
  backgroundColor: '#ffffff',
  grid: grids,
  xAxis: xAxes,
  yAxis: yAxes,
  series,
  graphic: {elements: graphics}
});
</script>
</body>
</html>
